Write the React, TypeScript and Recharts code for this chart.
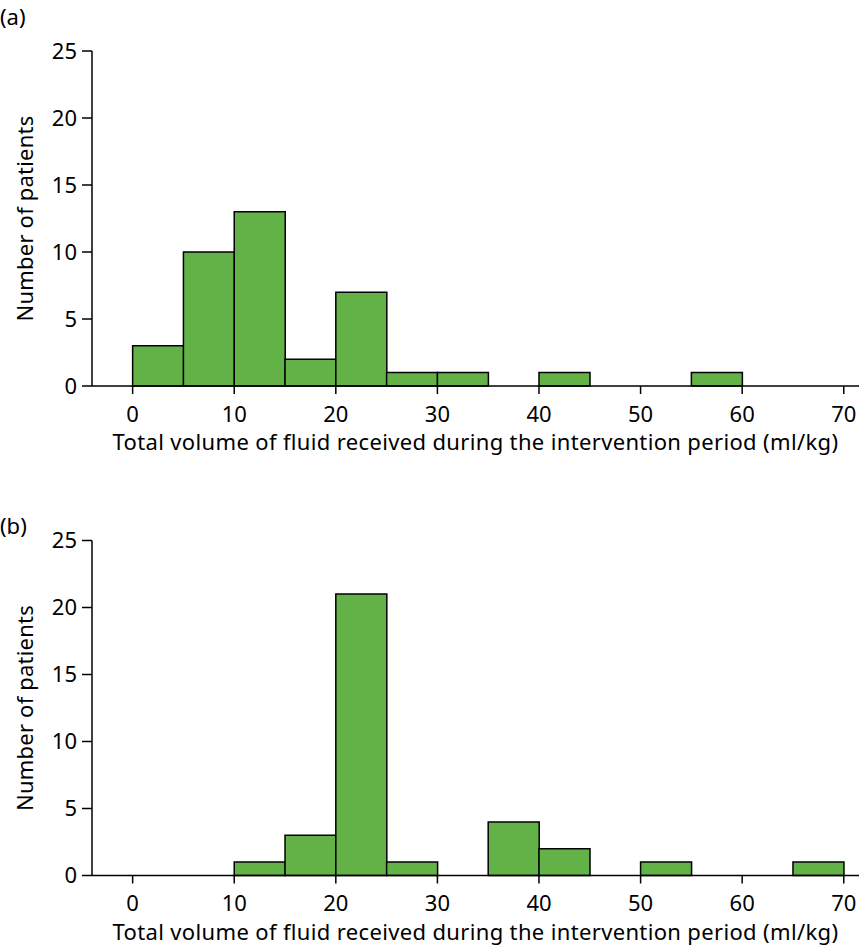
import { ComposedChart, Bar, XAxis, YAxis, Label } from "recharts";

// histogram bins, 5 ml/kg wide
const binStarts = [0, 5, 10, 15, 20, 25, 30, 35, 40, 45, 50, 55, 60, 65];
const binWidth = 5;
const countsA = [3, 10, 13, 2, 7, 1, 1, 0, 1, 0, 0, 1, 0, 0];
const countsB = [0, 0, 1, 3, 21, 1, 0, 4, 2, 0, 1, 0, 0, 1];
const xTicks = [0, 10, 20, 30, 40, 50, 60, 70];
const yTicks = [0, 5, 10, 15, 20, 25];
const xTitle = "Total volume of fluid received during the intervention period (ml/kg)";
const yTitle = "Number of patients";

const font = "'Noto Sans', sans-serif";
const fs = 22;
const green = "#63b247";

const toRows = (counts: number[]) =>
  binStarts.map((s, i) => ({ mid: s + binWidth / 2, count: counts[i] }));

const YTitle = (props: any) => {
  const vb = props.viewBox || {};
  const cy = vb.y + vb.height / 2;
  return (
    <text
      x={33}
      y={cy}
      transform={`rotate(-90, 33, ${cy})`}
      textAnchor="middle"
      fontSize={fs}
      fontFamily={font}
      letterSpacing={0.2}
      fill="#000"
    >
      {yTitle}
    </text>
  );
};

interface PanelProps {
  counts: number[];
  height: number;
  top: number;
  axisH: number;
}

const Panel = ({ counts, height, top, axisH }: PanelProps) => {
  const tick = { fontSize: fs, fontFamily: font, fill: "#000" };
  return (
    <ComposedChart
      width={859}
      height={height}
      data={toRows(counts)}
      margin={{ top, right: 0, bottom: 0, left: 0 }}
      barCategoryGap={0}
      barGap={0}
    >
      <XAxis
        type="number"
        dataKey="mid"
        domain={[-4, 71.5]}
        ticks={xTicks}
        allowDataOverflow
        height={axisH}
        tick={tick}
        tickSize={8}
        tickMargin={12}
        stroke="#000"
        strokeWidth={1.5}
        tickLine={{ stroke: "#000", strokeWidth: 1.5 }}
      >
        <Label
          value={xTitle}
          position="insideBottom"
          offset={axisH - 64}
          fontSize={fs}
          fontFamily={font}
          letterSpacing={0.35}
          fill="#000"
        />
      </XAxis>
      <YAxis
        type="number"
        domain={[0, 25]}
        ticks={yTicks}
        width={92}
        tick={tick}
        tickSize={10}
        tickMargin={5}
        stroke="#000"
        strokeWidth={1.5}
        tickLine={{ stroke: "#000", strokeWidth: 1.5 }}
      >
        <Label content={<YTitle />} />
      </YAxis>
      <Bar
        dataKey="count"
        fill={green}
        stroke="#000"
        strokeWidth={1.5}
        isAnimationActive={false}
      />
    </ComposedChart>
  );
};

const tag = {
  position: "absolute" as const,
  left: 0,
  fontSize: fs,
  fontFamily: font,
  lineHeight: "22px",
};

export default function App() {
  return (
    <div style={{ position: "absolute", left: 0, top: 0, width: 859, height: 945, background: "#fff" }}>
      <div style={{ position: "absolute", left: 0, top: 0 }}>
        <Panel counts={countsA} height={490} top={51} axisH={104} />
      </div>
      <div style={{ position: "absolute", left: 0, top: 490 }}>
        <Panel counts={countsB} height={455} top={50.5} axisH={69.5} />
      </div>
      <div style={{ ...tag, top: 5 }}>(a)</div>
      <div style={{ ...tag, top: 514 }}>(b)</div>
    </div>
  );
}
